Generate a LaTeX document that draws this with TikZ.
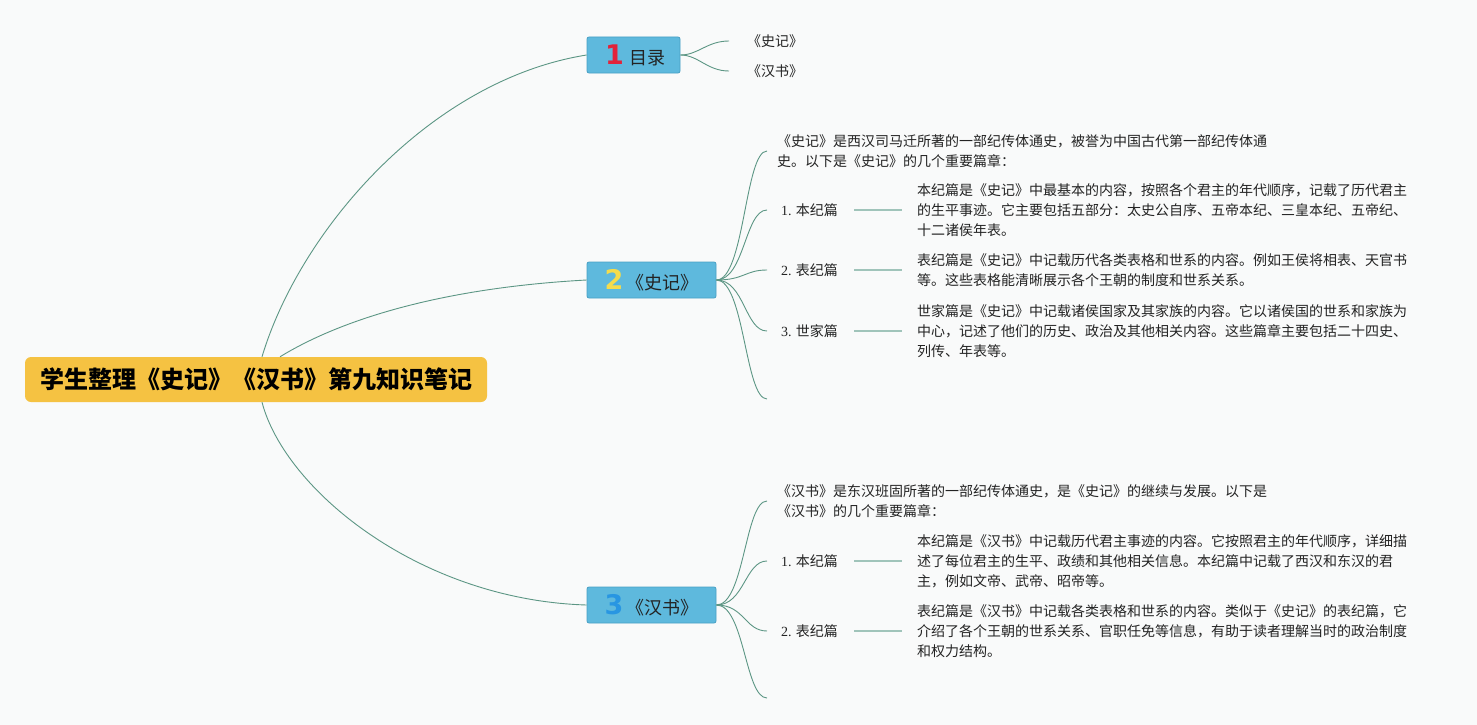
\documentclass[tikz,border=0pt]{standalone}
\usepackage{fontspec}
\setmainfont{Liberation Serif}
\newfontfamily\cjk{Noto Sans CJK SC}
\newfontfamily\numfont{DejaVu Sans}
\definecolor{bgc}{RGB}{249,250,250}
\definecolor{boxf}{RGB}{94,185,221}
\definecolor{boxb}{RGB}{72,160,196}
\definecolor{rootc}{RGB}{245,194,66}
\definecolor{connc}{RGB}{92,150,132}
\definecolor{shortc}{RGB}{160,196,186}
\definecolor{nA}{RGB}{226,35,58}
\definecolor{nB}{RGB}{245,220,76}
\definecolor{nC}{RGB}{40,150,226}
\definecolor{txtc}{RGB}{35,35,35}
\newcommand{\marknum}[2]{{\numfont\bfseries\fontsize{27pt}{28pt}\selectfont\color{#1}#2}}
\begin{document}
\begin{tikzpicture}[x=1pt,y=-1pt,
 conn/.style={draw=connc, line width=0.9pt},
 shortline/.style={draw=shortc, line width=1.8pt},
 topic/.style={draw=boxb, fill=boxf, rounded corners=2pt, line width=0.8pt, minimum height=36pt, inner sep=0pt, text=txtc, font=\fontsize{18pt}{20pt}\selectfont\cjk},
 rootbox/.style={fill=rootc, rounded corners=6pt, minimum width=462pt, minimum height=45pt, inner sep=0pt, text=black, font=\fontsize{24pt}{26pt}\selectfont\cjk\bfseries},
 txt/.style={inner sep=0pt, align=left, anchor=west, text=txtc, font=\fontsize{14pt}{20pt}\selectfont\cjk},
]
\useasboundingbox[fill=bgc] (0,0) rectangle (1477,725);

% root and main topics
\node[rootbox] (root) at (256,379.5) {学生整理《史记》《汉书》第九知识笔记};
\node[topic, minimum width=93pt] (b1) at (633.5,55) {\hspace{4pt}\marknum{nA}{1}\hspace{6pt}目录};
\node[topic, minimum width=129pt] (b2) at (651.5,280) {\marknum{nB}{2}\hspace{3pt}《史记》};
\node[topic, minimum width=129pt] (b3) at (651.5,605) {\marknum{nC}{3}\hspace{3pt}《汉书》};

\draw[conn] ([xshift=6pt]root.north) .. controls (300,230) and (430,80) .. (b1.west);
\draw[conn] ([xshift=24pt]root.north) .. controls (340,320) and (440,288) .. (b2.west);
\draw[conn] ([xshift=6pt]root.south) .. controls (285,490) and (420,600) .. (b3.west);

% topic 1
\node[txt] (t11) at (747,41) {《史记》};
\node[txt] (t12) at (747,71) {《汉书》};
\draw[conn] (b1.east) .. controls +(18,0) and +(-22,0) .. ([xshift=-18pt]t11.west);
\draw[conn] (b1.east) .. controls +(18,0) and +(-22,0) .. ([xshift=-18pt]t12.west);

% topic 2
\node[txt] (i2) at (777,151) {《史记》是西汉司马迁所著的一部纪传体通史，被誉为中国古代第一部纪传体通\\史。以下是《史记》的几个重要篇章：};
\node[txt] (l21) at (781,210) {{\rmfamily 1.} 本纪篇};
\node[txt] (p21) at (917,210) {本纪篇是《史记》中最基本的内容，按照各个君主的年代顺序，记载了历代君主\\的生平事迹。它主要包括五部分：太史公自序、五帝本纪、三皇本纪、五帝纪、\\十二诸侯年表。};
\node[txt] (l22) at (781,270) {{\rmfamily 2.} 表纪篇};
\node[txt] (p22) at (917,270) {表纪篇是《史记》中记载历代各类表格和世系的内容。例如王侯将相表、天官书\\等。这些表格能清晰展示各个王朝的制度和世系关系。};
\node[txt] (l23) at (781,331) {{\rmfamily 3.} 世家篇};
\node[txt] (p23) at (917,331) {世家篇是《史记》中记载诸侯国家及其家族的内容。它以诸侯国的世系和家族为\\中心，记述了他们的历史、政治及其他相关内容。这些篇章主要包括二十四史、\\列传、年表等。};
\coordinate (e25) at (767,399);

\draw[conn] (b2.east) .. controls +(28,0) and +(-22,0) .. ([xshift=-10pt]i2.west);
\draw[conn] (b2.east) .. controls +(28,0) and +(-22,0) .. ([xshift=-14pt]l21.west);
\draw[conn] (b2.east) .. controls +(28,0) and +(-22,0) .. ([xshift=-14pt]l22.west);
\draw[conn] (b2.east) .. controls +(28,0) and +(-22,0) .. ([xshift=-14pt]l23.west);
\draw[conn] (b2.east) .. controls +(28,0) and +(-22,0) .. (e25);
\draw[shortline] ([xshift=16pt]l21.east) -- ([xshift=-15pt]p21.west);
\draw[shortline] ([xshift=16pt]l22.east) -- ([xshift=-15pt]p22.west);
\draw[shortline] ([xshift=16pt]l23.east) -- ([xshift=-15pt]p23.west);

% topic 3
\node[txt] (i3) at (777,501) {《汉书》是东汉班固所著的一部纪传体通史，是《史记》的继续与发展。以下是\\《汉书》的几个重要篇章：};
\node[txt] (l31) at (781,561) {{\rmfamily 1.} 本纪篇};
\node[txt] (p31) at (917,561) {本纪篇是《汉书》中记载历代君主事迹的内容。它按照君主的年代顺序，详细描\\述了每位君主的生平、政绩和其他相关信息。本纪篇中记载了西汉和东汉的君\\主，例如文帝、武帝、昭帝等。};
\node[txt] (l32) at (781,631) {{\rmfamily 2.} 表纪篇};
\node[txt] (p32) at (917,631) {表纪篇是《汉书》中记载各类表格和世系的内容。类似于《史记》的表纪篇，它\\介绍了各个王朝的世系关系、官职任免等信息，有助于读者理解当时的政治制度\\和权力结构。};
\coordinate (e33) at (767,698);

\draw[conn] (b3.east) .. controls +(28,0) and +(-22,0) .. ([xshift=-10pt]i3.west);
\draw[conn] (b3.east) .. controls +(28,0) and +(-22,0) .. ([xshift=-14pt]l31.west);
\draw[conn] (b3.east) .. controls +(28,0) and +(-22,0) .. ([xshift=-14pt]l32.west);
\draw[conn] (b3.east) .. controls +(28,0) and +(-22,0) .. (e33);
\draw[shortline] ([xshift=16pt]l31.east) -- ([xshift=-15pt]p31.west);
\draw[shortline] ([xshift=16pt]l32.east) -- ([xshift=-15pt]p32.west);
\end{tikzpicture}
\end{document}
